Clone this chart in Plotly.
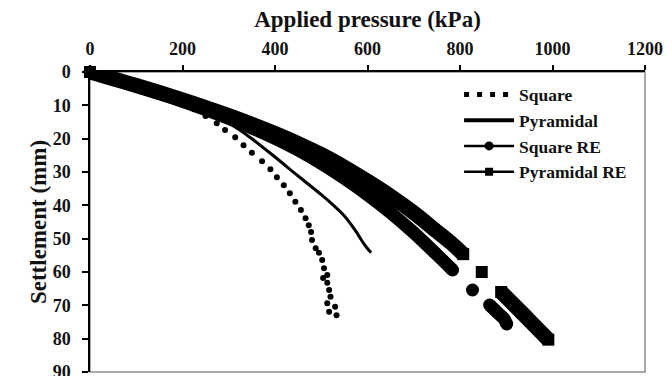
import plotly.graph_objects as go

# ---------------- data ----------------
# Applied pressure (kPa) / Settlement (mm)
square_p = [0, 40, 80, 120, 160, 200, 225, 250, 274, 292, 314, 332, 350, 372, 390, 404,
            419, 432, 444, 456, 466, 473, 478, 480, 488, 495, 502, 506, 513, 504, 513,
            517, 520, 513, 530, 517, 533]
square_s = [0, 1.6, 3.4, 5.2, 7.2, 9.6, 11.2, 13.2, 15.4, 17.4, 19.6, 22.0, 24.2, 26.8, 29.2, 31.6,
            34.0, 36.4, 38.9, 41.4, 43.9, 46.0, 48.0, 50.4, 52.9, 54.2, 56.4, 58.9, 60.9, 61.8, 63.2,
            65.4, 67.4, 69.4, 70.4, 71.9, 73.0]

pyramidal_p = [0, 100, 200, 250, 300, 350, 400, 450, 500, 520, 550, 575, 592, 603, 608]
pyramidal_s = [0, 4.3, 9.0, 11.8, 15.3, 20.0, 25.5, 31.2, 36.8, 39.2, 43.2, 47.8, 51.5, 53.5, 54.2]

square_re_p = [0, 50, 100, 150, 200, 250, 300, 350, 400, 450, 500, 550, 600, 650, 700, 750, 784,
               None, 827, None, 864, 882, 895, 901]
square_re_s = [0, 2.1, 4.2, 6.45, 8.8, 11.3, 13.95, 16.8, 19.9, 23.4, 27.4, 31.9, 36.8, 42.2, 48.2,
               54.8, 59.4, None, 65.4, None, 69.9, 72.3, 74.0, 75.6]

pyramidal_re_p = [0, 50, 100, 150, 200, 250, 300, 350, 400, 450, 500, 550, 600, 650, 700, 750, 780,
                  807, None, 847, None, 889, 920, 955, 991]
pyramidal_re_s = [0, 2.0, 4.05, 6.15, 8.35, 10.65, 13.05, 15.65, 18.45, 21.45, 24.75, 28.55, 32.75,
                  37.25, 42.25, 47.85, 51.2, 54.65, None, 60.0, None, 66.0, 70.3, 75.2, 80.3]

series_names = ["Square", "Pyramidal", "Square RE", "Pyramidal RE"]
x_tick_vals = [0, 200, 400, 600, 800, 1000, 1200]
y_tick_vals = [0, 10, 20, 30, 40, 50, 60, 70, 80, 90]

x_title = "Applied pressure (kPa)"
y_title = "Settlement (mm)"

# ---------------- styling ----------------
FONT = "Liberation Serif"
INK = "#111111"


def end_marker_sizes(xs, size):
    """Markers only at the ends of each segment (and on isolated points)."""
    out = []
    n = len(xs)
    for i, v in enumerate(xs):
        if v is None:
            out.append(0)
            continue
        prev_none = i == 0 or xs[i - 1] is None
        next_none = i == n - 1 or xs[i + 1] is None
        out.append(size if (prev_none or next_none) else 0)
    return out


fig = go.Figure()

# data traces
fig.add_trace(go.Scatter(
    x=square_p, y=square_s, mode="markers", showlegend=False, cliponaxis=False,
    marker=dict(symbol="circle", size=6, color="black", opacity=1), hoverinfo="skip"))
fig.add_trace(go.Scatter(
    x=pyramidal_p, y=pyramidal_s, mode="lines", showlegend=False,
    line=dict(color="black", width=3, shape="spline", smoothing=0.8), hoverinfo="skip"))
fig.add_trace(go.Scatter(
    x=square_re_p, y=square_re_s, mode="lines+markers", showlegend=False, cliponaxis=False,
    connectgaps=False,
    line=dict(color="black", width=13, shape="spline", smoothing=0.8),
    marker=dict(symbol="circle", size=end_marker_sizes(square_re_p, 13), color="black",
                opacity=1, line=dict(width=0)),
    hoverinfo="skip"))
fig.add_trace(go.Scatter(
    x=pyramidal_re_p, y=pyramidal_re_s, mode="lines+markers", showlegend=False, cliponaxis=False,
    connectgaps=False,
    line=dict(color="black", width=15, shape="spline", smoothing=0.8),
    marker=dict(symbol="square", size=end_marker_sizes(pyramidal_re_p, 12), color="black",
                opacity=1, line=dict(width=0)),
    hoverinfo="skip"))

# legend entries
fig.add_trace(go.Scatter(x=[None], y=[None], mode="lines", name=series_names[0],
                         line=dict(color="black", width=5, dash="5px,8px")))
fig.add_trace(go.Scatter(x=[None], y=[None], mode="lines", name=series_names[1],
                         line=dict(color="black", width=4)))
fig.add_trace(go.Scatter(x=[None], y=[None], mode="lines+markers", name=series_names[2],
                         line=dict(color="black", width=2.5),
                         marker=dict(symbol="circle", size=9, color="black")))
fig.add_trace(go.Scatter(x=[None], y=[None], mode="lines+markers", name=series_names[3],
                         line=dict(color="black", width=2.5),
                         marker=dict(symbol="square", size=8, color="black")))

fig.update_layout(
    width=667, height=376,
    margin=dict(l=90, r=22, t=72, b=4, autoexpand=False),
    paper_bgcolor="white", plot_bgcolor="white",
    font=dict(family=FONT, color=INK),
    showlegend=True,
    legend=dict(
        x=0.665, y=0.985, xanchor="left", yanchor="top",
        bgcolor="rgba(0,0,0,0)", borderwidth=0,
        font=dict(family=FONT, size=17.5, color=INK, weight="bold"),
        itemwidth=50, traceorder="normal",
    ),
    shapes=[dict(type="rect", xref="paper", yref="paper", x0=0, x1=1, y0=0, y1=1,
                 line=dict(color="#8a8a8a", width=1.5), layer="below")],
)

fig.update_xaxes(
    side="top", range=[0, 1200], tickvals=x_tick_vals,
    showline=True, linecolor="black", linewidth=1.5,
    ticks="outside", ticklen=5, tickcolor="black", tickwidth=1.5,
    ticklabelstandoff=3, ticklabeloverflow="allow",
    showgrid=False, zeroline=False,
    tickfont=dict(family=FONT, size=18, color=INK, weight="bold"),
    title=dict(text=x_title, standoff=5,
               font=dict(family=FONT, size=23, color=INK, weight="bold")),
)
fig.update_yaxes(
    range=[90, 0], tickvals=y_tick_vals,
    showline=True, linecolor="black", linewidth=1.5,
    ticks="outside", ticklen=6, tickcolor="black", tickwidth=1.5,
    ticklabelstandoff=8, ticklabeloverflow="allow",
    showgrid=False, zeroline=False,
    tickfont=dict(family=FONT, size=18, color=INK, weight="bold"),
    title=dict(text=y_title, standoff=0,
               font=dict(family=FONT, size=23, color=INK, weight="bold")),
)

fig.write_html("out.html")
